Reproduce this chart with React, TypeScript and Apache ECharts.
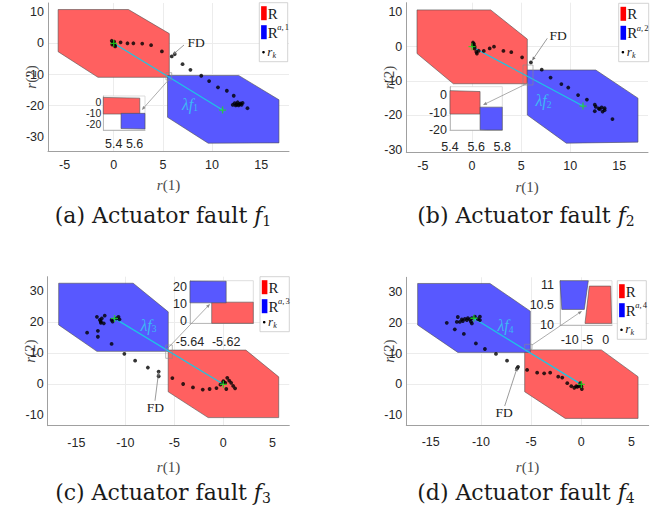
import React, { useEffect, useRef } from "react";
import * as echarts from "echarts";

const W = 656;
const H = 510;

// ---------------- tick values ----------------
const xTicksTop = [-5, 0, 5, 10, 15];
const yTicksTop = [-30, -20, -10, 0, 10];
const xTicksBottom = [-15, -10, -5, 0, 5];
const yTicksBottom = [-10, 0, 10, 20, 30];
const insetXTicks = [[5.4, 5.6], [5.4, 5.6, 5.8], [-5.64, -5.62], [-10, -5, 0]];
const insetYTicks = [[-20, -10, 0], [-20, -10, 0], [0, 10, 20], [10, 10.5, 11]];

// ---------------- axis ranges ----------------
const mainXRange = [[-6.68, 17.82], [-6.69, 17.92], [-17.92, 6.73], [-17.43, 6.71]];
const mainYRange = [[-34.5, 12.9], [-30.76, 12.8], [-13.3, 34.6], [-13.2, 34.8]];
const insetXRange = [[5.3, 5.7], [5.4, 5.8], [-5.64, -5.605], [-12.7, 1.75]];
const insetYRange = [[-25, 5], [-20, 5], [-1.4, 23.6], [10, 11.11]];

// ---------------- sets R (red) and R^{a,i} (blue) ----------------
const redA = [[-5.65, 10.8], [1.5, 10.8], [5.65, 3.1], [5.65, -10.9], [-1.6, -10.9], [-5.65, -2.7]];
const blueA = [[5.47, -10.3], [12.7, -10.3], [16.8, -18.1], [16.8, -31.9], [9.6, -32.0], [5.47, -23.7]];
const redB = [[-5.6, 10.7], [1.9, 10.7], [5.63, 2.2], [5.63, -10.8], [-1.9, -10.8], [-5.6, -2.0]];
const blueB = [[5.63, -6.8], [12.6, -6.8], [16.9, -15.0], [16.9, -27.8], [9.6, -28.1], [5.63, -19.9]];
const redC = [[-5.628, 11.0], [2.3, 11.0], [5.65, 2.4], [5.65, -10.7], [-1.55, -10.7], [-5.628, -2.4]];
const blueC = [[-16.8, 32.5], [-9.2, 32.5], [-5.62, 23.3], [-5.62, 10.6], [-12.9, 10.6], [-16.8, 19.1]];
const redD = [[-5.64, 11.2], [2.0, 11.2], [5.65, 2.5], [5.65, -11.05], [-1.6, -11.05], [-5.64, -2.4]];
const blueD = [[-16.3, 32.8], [-9.1, 32.8], [-5.08, 23.8], [-5.08, 10.4], [-12.3, 10.4], [-16.3, 19.3]];
const insetRedD = [[-4.56, 10.975], [1.39, 10.975], [1.67, 10.04], [-5.75, 10.04]];
const insetBlueD = [[-12.76, 11.2], [-4.69, 11.2], [-5.94, 10.39], [-12.2, 10.39]];

// ---------------- residual samples r_k ----------------
const residualsA = [[-0.2, 0.8], [-0.1, 0.3], [0.0, -0.2], [0.1, -0.6], [-0.15, -0.4], [0.05, 0.5], [0.15, -1.0], [0.7, 0.3], [1.4, 0.0], [2.0, 0.0], [2.9, -0.1], [3.8, -0.6], [4.9, -2.6], [5.9, -4.2], [6.2, -3.5], [7.0, -6.7], [7.8, -8.5], [8.9, -10.4], [9.7, -12.1], [10.6, -14.1], [11.5, -15.2], [12.2, -16.8], [12.1, -19.7], [12.3, -19.2], [12.5, -19.6], [12.6, -18.9], [12.7, -19.9], [12.9, -19.3], [13.0, -19.7], [12.4, -19.9], [12.8, -19.5], [13.1, -19.1], [13.6, -20.8]];
const residualsB = [[0.1, 1.2], [0.27, 0.0], [0.27, -0.6], [0.44, -1.5], [0.5, -2.0], [0.68, -1.2], [0.1, 0.5], [0.2, 0.8], [1.2, -1.25], [1.8, -0.5], [2.24, 0.0], [3.2, -1.25], [4.0, -1.6], [5.1, -3.1], [6.0, -4.6], [7.1, -6.7], [8.0, -9.0], [9.1, -10.9], [9.8, -11.9], [10.8, -14.1], [11.7, -15.4], [12.5, -16.9], [12.6, -17.5], [12.9, -18.0], [13.2, -17.7], [13.5, -18.5], [12.5, -18.8], [13.0, -18.2], [13.5, -17.9], [13.3, -18.9], [14.3, -21.1]];
const residualsC = [[-12.9, 21.7], [-12.6, 20.7], [-12.5, 20.2], [-12.4, 21.2], [-12.1, 22.1], [-12.5, 19.8], [-12.2, 19.6], [-11.4, 20.7], [-11.3, 20.2], [-10.9, 21.2], [-10.7, 21.7], [-10.6, 20.9], [-13.9, 16.6], [-12.8, 17.2], [-12.8, 15.3], [-11.4, 13.0], [-10.1, 9.8], [-9.0, 7.6], [-7.7, 5.4], [-6.6, 4.1], [-6.6, 2.6], [-5.2, 2.0], [-4.1, 0.1], [-3.1, -1.0], [-2.1, -1.7], [-1.4, -1.5], [-0.7, -1.2], [-0.3, -0.1], [0.0, 1.0], [0.2, 0.5], [0.4, 2.1], [0.6, 1.2], [0.3, -1.5], [0.8, 0.5], [1.0, -0.5], [1.2, -1.3], [0.0, 0.7]];
const residualsD = [[-13.4, 20.0], [-12.6, 17.9], [-12.4, 20.3], [-12.3, 21.9], [-12.1, 20.3], [-11.9, 21.1], [-11.8, 20.6], [-11.6, 21.3], [-11.7, 16.4], [-11.4, 20.9], [-11.3, 21.5], [-11.1, 21.1], [-11.0, 20.4], [-10.9, 21.5], [-10.9, 19.8], [-10.6, 22.0], [-10.3, 21.2], [-10.1, 22.0], [-10.1, 20.9], [-10.5, 13.3], [-9.6, 11.5], [-8.5, 9.9], [-7.4, 7.7], [-6.4, 5.2], [-6.3, 5.7], [-5.4, 4.7], [-4.4, 3.8], [-3.7, 3.6], [-3.1, 3.8], [-2.3, 2.5], [-1.9, 2.2], [-1.4, 0.4], [-1.0, -0.6], [-0.7, -1.1], [-0.5, -0.6], [-0.4, -0.8], [-0.2, -0.6], [0.0, -0.6], [0.05, -1.5], [-0.1, 0.4]];

// ---------------- fault direction vectors (lambda f_i) ----------------
const origin = [0, 0];
const faultA = [11.07, -21.4];
const faultB = [11.3, -17.3];
const faultC = [-11.1, 21.2];
const faultD = [-10.7, 21.5];

const captions = ["(a) Actuator fault ", "(b) Actuator fault ", "(c) Actuator fault ", "(d) Actuator fault "];
const faultIndex = ["1", "2", "3", "4"];

// ---------------- layout (pixels) ----------------
const mainGrids = [
  { left: 48, top: 3, width: 241, height: 148 },
  { left: 406.3, top: 2.7, width: 241.7, height: 149.6 },
  { left: 47.7, top: 276.7, width: 241.6, height: 149 },
  { left: 406.3, top: 277.3, width: 242.4, height: 147.7 },
];
const insetGrids = [
  { left: 103.3, top: 96, width: 41.7, height: 34 },
  { left: 450, top: 86.7, width: 52.3, height: 43.3 },
  { left: 190, top: 280.7, width: 63.3, height: 42.6 },
  { left: 560, top: 280.7, width: 52, height: 44.3 },
];
const xLabelMargin = [7, 7.5, 10.5, 10];
const xNameGap = [26, 27, 34, 34];
const yNameGap = 10;
const insetXMargin = [7, 10, 12, 8];
const insetYMargin = [2, 3, 3, 6];
const insetYFontSize = [10.5, 12.5, 12.5, 12.5];
const legendBoxes = [[259.3, 2.7, 28.4, 59], [618.7, 3.3, 30, 58.4], [260, 276.7, 29.3, 55], [617.3, 280.7, 29, 58.6]];
const captionPos = [[163, 215], [526, 215], [163, 492], [526, 492]];
const lambdaPos = [[190, 104], [543.5, 100.5], [148.5, 325], [505.5, 325.5]];
const fdText = [[196, 42], [558, 35.7], [155.3, 407.5], [504, 412]];
const fdLine = [[184, 45, 172.7, 54.7], [547.3, 38.3, 532, 60.7], [155, 400.7, 158.7, 371.7], [504.7, 406, 517.3, 367.3]];
const zoomRects = [[166, 72.7, 5.7, 7.3], [523, 65, 10, 20], [165.7, 345, 6.6, 13.3], [524.7, 344.3, 7.3, 5]];
const zoomArrows = [[168.5, 80, 141.8, 110], [528, 83, 483, 105], [167, 349, 210, 304], [532, 345, 582, 311]];

const tickFont = "'Liberation Sans Narrow','Liberation Sans',Arial,sans-serif";
const serif = "'Liberation Serif','DejaVu Serif',serif";
const capFont = "'DejaVu Serif','Liberation Serif',serif";
const RED_FILL = "rgba(255,96,96,1)";
const BLUE_FILL = "rgba(88,88,255,1)";

function clipPolygon(pts: number[][], x0: number, y0: number, x1: number, y1: number) {
  let out = pts.slice();
  const bounds: [number, number, boolean][] = [[0, x0, true], [0, x1, false], [1, y0, true], [1, y1, false]];
  for (const [k, c, greater] of bounds) {
    const input = out;
    out = [];
    if (!input.length) break;
    const inside = (p: number[]) => (greater ? p[k] >= c : p[k] <= c);
    const inter = (a: number[], b: number[]) => {
      const t = (c - a[k]) / (b[k] - a[k]);
      return [a[0] + t * (b[0] - a[0]), a[1] + t * (b[1] - a[1])];
    };
    for (let i = 0; i < input.length; i++) {
      const cur = input[i];
      const prev = input[(i + input.length - 1) % input.length];
      if (inside(cur)) {
        if (!inside(prev)) out.push(inter(prev, cur));
        out.push(cur);
      } else if (inside(prev)) {
        out.push(inter(prev, cur));
      }
    }
  }
  return out;
}

function polySeries(xIdx: number, yIdx: number, verts: number[][], fill: string, z: number) {
  return {
    type: "custom",
    xAxisIndex: xIdx,
    yAxisIndex: yIdx,
    z,
    silent: true,
    data: [0],
    renderItem: (params: any, api: any) => {
      const cs = params.coordSys;
      const pts = verts.map((v) => api.coord(v));
      const clipped = clipPolygon(pts, cs.x, cs.y, cs.x + cs.width, cs.y + cs.height);
      return {
        type: "polygon",
        shape: { points: clipped },
        style: { fill, stroke: "#505050", lineWidth: 0.6 },
      };
    },
  };
}

const fmt = (ticks: number[]) => (v: number) => {
  const t = ticks.find((tt) => Math.abs(tt - v) < 1e-6);
  return t === undefined ? "" : String(t);
};

function arrow(x1: number, y1: number, x2: number, y2: number, color: string) {
  const ang = Math.atan2(y2 - y1, x2 - x1);
  const L = 4, hw = 1.6;
  const bx = x2 - L * Math.cos(ang), by = y2 - L * Math.sin(ang);
  const px = -Math.sin(ang) * hw, py = Math.cos(ang) * hw;
  return [
    { type: "line", z: 30, silent: true, shape: { x1, y1, x2: bx, y2: by }, style: { stroke: color, lineWidth: 0.7 } },
    { type: "polygon", z: 30, silent: true, shape: { points: [[x2, y2], [bx + px, by + py], [bx - px, by - py]] }, style: { fill: color } },
  ];
}

function txt(x: number, y: number, text: string, extra: any) {
  return {
    type: "text",
    x,
    y,
    z: 31,
    silent: true,
    style: Object.assign({ text, fill: "#1a1a1a", fontFamily: serif, fontSize: 13, align: "center", verticalAlign: "middle", textAlign: "center", textVerticalAlign: "middle" }, extra),
  };
}

function buildOption() {
  const panels = [
    { red: redA, blue: blueA, res: residualsA, fault: faultA, xt: xTicksTop, yt: yTicksTop, ired: redA, iblue: blueA },
    { red: redB, blue: blueB, res: residualsB, fault: faultB, xt: xTicksTop, yt: yTicksTop, ired: redB, iblue: blueB },
    { red: redC, blue: blueC, res: residualsC, fault: faultC, xt: xTicksBottom, yt: yTicksBottom, ired: redC, iblue: blueC },
    { red: redD, blue: blueD, res: residualsD, fault: faultD, xt: xTicksBottom, yt: yTicksBottom, ired: insetRedD, iblue: insetBlueD },
  ];

  const grid: any[] = [];
  const xAxis: any[] = [];
  const yAxis: any[] = [];
  const series: any[] = [];
  const nameStyle = {
    fontFamily: serif,
    fontSize: 15,
    color: "#4a4a4a",
    rich: { i: { fontStyle: "italic", fontFamily: serif, fontSize: 15, color: "#4a4a4a" } },
  };

  panels.forEach((p, i) => {
    grid.push({ ...mainGrids[i], containLabel: false, outerBoundsMode: "none", show: false });
    xAxis.push({
      gridIndex: i,
      type: "value",
      position: "bottom",
      min: mainXRange[i][0],
      max: mainXRange[i][1],
      axisLine: { show: true, onZero: false, lineStyle: { color: "#a0a0a0", width: 1 } },
      axisTick: { show: false, customValues: p.xt },
      axisLabel: { customValues: p.xt, formatter: fmt(p.xt), color: "#262626", fontSize: 12.5, fontFamily: tickFont, margin: xLabelMargin[i] },
      splitLine: { show: true, showMinLine: false, showMaxLine: false, lineStyle: { color: "#ececec", width: 1 } },
      name: "{i|r}(1)",
      nameLocation: "middle",
      nameGap: xNameGap[i],
      nameMoveOverlap: false,
      nameTextStyle: nameStyle,
    });
    yAxis.push({
      gridIndex: i,
      type: "value",
      position: "left",
      min: mainYRange[i][0],
      max: mainYRange[i][1],
      axisLine: { show: true, onZero: false, lineStyle: { color: "#a0a0a0", width: 1 } },
      axisTick: { show: false, customValues: p.yt },
      axisLabel: { customValues: p.yt, formatter: fmt(p.yt), color: "#262626", fontSize: 12.5, fontFamily: tickFont, margin: 4 },
      splitLine: { show: true, showMinLine: false, showMaxLine: false, lineStyle: { color: "#ececec", width: 1 } },
      name: "{i|r}(2)",
      nameLocation: "middle",
      nameGap: yNameGap,
      nameMoveOverlap: false,
      nameTextStyle: nameStyle,
    });
    series.push(polySeries(i, i, p.red, RED_FILL, 2));
    series.push(polySeries(i, i, p.blue, BLUE_FILL, 2));
    series.push({
      type: "line",
      xAxisIndex: i,
      yAxisIndex: i,
      z: 3,
      silent: true,
      data: [origin, p.fault],
      showSymbol: false,
      symbol: "none",
      lineStyle: { color: "#1cc6e4", width: 1.2 },
    });
    series.push({
      type: "scatter",
      xAxisIndex: i,
      yAxisIndex: i,
      z: 4,
      silent: true,
      data: p.res,
      symbolSize: 3.8,
      itemStyle: { color: "#000" },
    });
    series.push({
      type: "scatter",
      xAxisIndex: i,
      yAxisIndex: i,
      z: 5,
      silent: true,
      data: [origin, p.fault],
      symbol: "path://M5,0L5,10M0,5L10,5",
      symbolSize: 7,
      itemStyle: { color: "rgba(0,0,0,0)", borderColor: "#1fe01f", borderWidth: 1.3 },
    });
  });

  panels.forEach((p, i) => {
    const gi = 4 + i;
    grid.push({ ...insetGrids[i], containLabel: false, outerBoundsMode: "none", show: true, backgroundColor: "#fff", borderColor: "#d4d4d4", borderWidth: 0.8, z: 10 });
    const xIdx = xAxis.length;
    xAxis.push({
      gridIndex: gi,
      type: "value",
      position: "bottom",
      z: 11,
      min: insetXRange[i][0],
      max: insetXRange[i][1],
      axisLine: { show: true, onZero: false, lineStyle: { color: "#b0b0b0", width: 0.8 } },
      axisTick: { show: false, customValues: insetXTicks[i] },
      axisLabel: { customValues: insetXTicks[i], formatter: fmt(insetXTicks[i]), color: "#262626", fontSize: 12.5, fontFamily: tickFont, margin: insetXMargin[i], hideOverlap: false },
      splitLine: { show: false },
    });
    // one y axis per tick label (all on the left edge) so that the tightly packed labels are all kept
    const yIdx = yAxis.length;
    insetYTicks[i].forEach((tv, k) => {
      yAxis.push({
        gridIndex: gi,
        type: "value",
        position: "left",
        offset: 0,
        z: 11,
        min: insetYRange[i][0],
        max: insetYRange[i][1],
        axisLine: { show: k === 0, onZero: false, lineStyle: { color: "#b0b0b0", width: 0.8 } },
        axisTick: { show: false, customValues: [tv] },
        axisLabel: { customValues: [tv], formatter: fmt([tv]), color: "#262626", fontSize: insetYFontSize[i], lineHeight: insetYFontSize[i], fontFamily: tickFont, margin: insetYMargin[i], hideOverlap: false },
        splitLine: { show: false },
      });
    });
    series.push(polySeries(xIdx, yIdx, p.ired, RED_FILL, 12));
    series.push(polySeries(xIdx, yIdx, p.iblue, BLUE_FILL, 12));
  });

  // ---------- graphic annotations ----------
  const elements: any[] = [];
  legendBoxes.forEach(([bx, by, bw, bh], i) => {
    elements.push({ type: "rect", z: 29, silent: true, shape: { x: bx, y: by, width: bw, height: bh }, style: { fill: "#fff", stroke: "#c8c8c8", lineWidth: 0.8 } });
    elements.push({ type: "rect", z: 30, silent: true, shape: { x: bx + 1.8, y: by + 3.5, width: 5.6, height: 14 }, style: { fill: "#ff0000" } });
    elements.push({ type: "rect", z: 30, silent: true, shape: { x: bx + 1.8, y: by + 22.5, width: 5.6, height: 14 }, style: { fill: "#0000ff" } });
    elements.push(txt(bx + 8.5, by + 11, "R", { fontSize: 15, align: "left", textAlign: "left" }));
    elements.push(txt(bx + 8.5, by + 30, "R", { fontSize: 15, align: "left", textAlign: "left" }));
    elements.push(txt(bx + 18, by + 24.5, "{a|a},", { fontSize: 8.5, align: "left", textAlign: "left", rich: { a: { fontStyle: "italic", fontSize: 8.5, fontFamily: serif } } }));
    elements.push(txt(bx + 25.5, by + 24.5, faultIndex[i], { fontSize: 8.5, align: "left", textAlign: "left" }));
    elements.push({ type: "circle", z: 30, silent: true, shape: { cx: bx + 4.2, cy: by + bh - 9.5, r: 1.3 }, style: { fill: "#000" } });
    elements.push(txt(bx + 8, by + bh - 10.5, "r", { fontSize: 13, fontStyle: "italic", align: "left", textAlign: "left" }));
    elements.push(txt(bx + 13.3, by + bh - 6.5, "k", { fontSize: 8, fontStyle: "italic", align: "left", textAlign: "left" }));
  });

  panels.forEach((p, i) => {
    const [lx, ly] = lambdaPos[i];
    elements.push(txt(lx, ly, "{l|λf}{s|" + faultIndex[i] + "}", {
      fill: "#3db8f5",
      fontSize: 16,
      lineHeight: 18,
      rich: {
        l: { fontStyle: "italic", fontFamily: serif, fontSize: 16, lineHeight: 18, fill: "#3db8f5", color: "#3db8f5" },
        s: { fontFamily: serif, fontSize: 9.5, lineHeight: 10, verticalAlign: "bottom", fill: "#3db8f5", color: "#3db8f5" },
      },
    }));
    const [fx, fy] = fdText[i];
    elements.push(txt(fx, fy, "FD", { fontSize: 13.5 }));
    const [a1, b1, a2, b2] = fdLine[i];
    elements.push(...arrow(a1, b1, a2, b2, "#707070"));
    const [rx, ry, rw, rh] = zoomRects[i];
    elements.push({ type: "rect", z: 30, silent: true, shape: { x: rx, y: ry, width: rw, height: rh }, style: { fill: "none", stroke: "#8a8a8a", lineWidth: 0.6 } });
    const [c1, d1, c2, d2] = zoomArrows[i];
    elements.push(...arrow(c1, d1, c2, d2, "#8a8a8a"));
    const [cx, cy] = captionPos[i];
    elements.push(txt(cx, cy, captions[i] + "{f|f}{s|" + faultIndex[i] + "}", {
      fontFamily: capFont,
      fontSize: 22,
      lineHeight: 26,
      rich: {
        f: { fontStyle: "italic", fontFamily: capFont, fontSize: 22, lineHeight: 26 },
        s: { fontFamily: capFont, fontSize: 14, lineHeight: 17, verticalAlign: "bottom" },
      },
    }));
  });

  return {
    animation: false,
    backgroundColor: "#ffffff",
    grid,
    xAxis,
    yAxis,
    series,
    graphic: { elements },
  };
}

export default function App() {
  const ref = useRef<HTMLDivElement>(null);
  useEffect(() => {
    if (!ref.current) return;
    const chart = echarts.init(ref.current, null, { renderer: "svg", width: W, height: H });
    chart.setOption(buildOption() as any);
    return () => chart.dispose();
  }, []);
  return <div ref={ref} style={{ position: "fixed", left: 0, top: 0, width: W, height: H, background: "#fff" }} />;
}
